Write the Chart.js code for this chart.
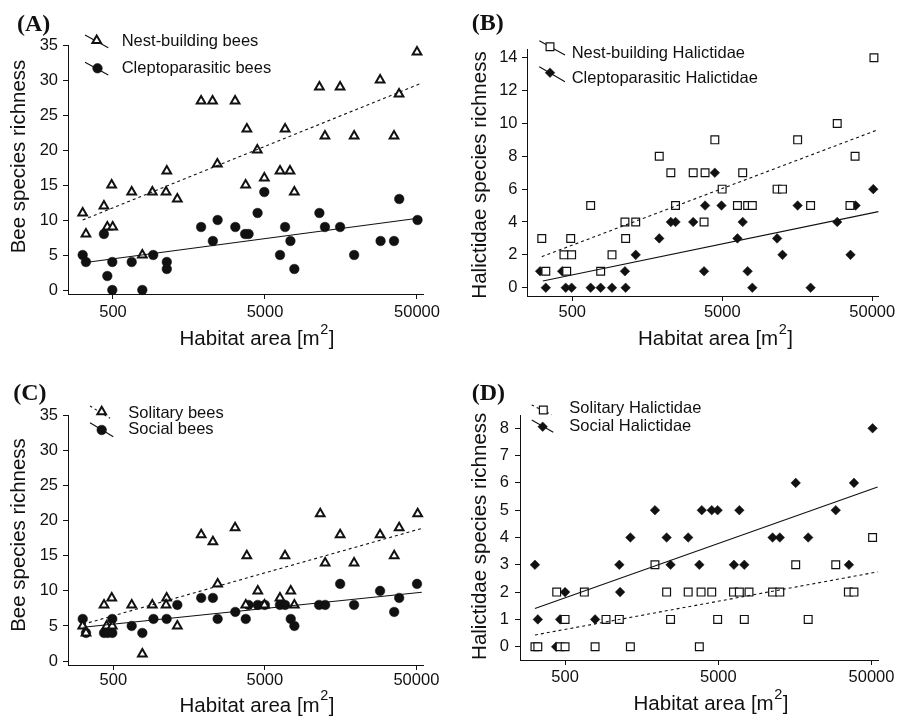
<!DOCTYPE html>
<html>
<head>
<meta charset="utf-8">
<script src="https://cdn.jsdelivr.net/npm/chart.js@4.4.1/dist/chart.umd.min.js"></script>
<style>
  html, body { margin: 0; padding: 0; background: #ffffff; }
  #wrap { position: relative; width: 901px; height: 718px; overflow: hidden; }
  canvas { position: absolute; display: block; }
</style>
</head>
<body>
<div id="wrap">
  <canvas id="cA" width="450" height="359" style="left:0;top:0"></canvas>
  <canvas id="cB" width="451" height="359" style="left:450px;top:0"></canvas>
  <canvas id="cC" width="450" height="359" style="left:0;top:359px"></canvas>
  <canvas id="cD" width="451" height="359" style="left:450px;top:359px"></canvas>
</div>
<script>
// ---------------- DATA ----------------
// x tick values / labels shared by all panels (habitat area, m2, log scale)
const xTicks = [500, 5000, 50000];
const xTickLabels = ['500', '5000', '50000'];
// y tick values
const yTicksBees = [0, 5, 10, 15, 20, 25, 30, 35];
const yTicksHalB = [0, 2, 4, 6, 8, 10, 12, 14];
const yTicksHalD = [0, 1, 2, 3, 4, 5, 6, 7, 8];

// (A) Nest-building bees
const areaNestA = [50000,28600,38100,11400,15600,1900,2260,3180,3800,6780,12400,19300,35300,4450,2430,1130,6280,7300,4950,3730,490,664,908,1117,7800,1325,436,316,459,498,332,780];
const richNestA = [34,30,28,29,29,27,27,27,23,23,22,22,22,20,18,17,17,17,16,15,15,14,14,14,14,13,12,11,9,9,8,5];
// (A) Cleptoparasitic bees
const areaCleptoA = [316,332,436,459,495,495,664,780,920,1130,1130,1900,2270,2440,3190,3700,3900,4470,4950,6280,6780,7350,7800,11400,12400,15600,19300,28800,35300,38200,50400];
const richCleptoA = [5,4,8,2,4,0,4,0,5,4,3,9,7,10,9,8,8,11,14,5,9,7,3,11,9,9,5,7,7,13,10];

// (B) Nest-building Halictidae
const areaNestB = [51300,29200,15900,4460,38400,1900,2270,3200,3840,6840,4990,11600,12600,663,2440,6310,7380,7930,19400,35500,1122,1324,3780,313,488,1134,440,495,920,333,459,773];
const richNestB = [14,10,9,9,8,8,7,7,7,7,6,6,6,5,5,5,5,5,5,5,4,4,4,3,3,3,2,2,2,1,1,1];
// (B) Cleptoparasitic Halictidae
const areaCleptoB = [50800,4460,3840,4940,15900,38700,2270,2440,3200,6840,29200,1900,6310,11600,1324,12600,35800,305,428,1122,3780,7380,333,452,495,663,773,920,1134,7930,19400];
const richCleptoB = [6,7,5,5,5,5,4,4,4,4,4,3,3,3,2,2,2,1,1,1,1,1,0,0,0,0,0,0,0,0,0];

// (C) Solitary bees
const areaSolC = [11600,51000,3180,38500,1900,15700,28800,2270,3800,6790,35700,12500,19400,2440,488,1124,4490,7410,6290,434,661,904,1114,3740,4970,7830,314,452,492,1322,330,777];
const richSolC = [21,21,19,19,18,18,18,17,15,15,15,14,14,11,9,9,10,10,9,8,8,8,8,8,8,8,5,5,5,5,4,1];
// (C) Social bees
const areaSocC = [314,330,434,459,492,492,661,777,920,1124,1322,1900,2270,2440,3190,3740,3900,4490,5000,6290,6800,7410,7830,11400,12500,15700,19400,28800,35700,38500,50500];
const richSocC = [6,4,4,4,4,6,5,4,6,6,8,9,9,6,7,6,8,8,8,8,8,6,5,8,8,11,8,10,7,9,11];

// (D) Solitary Halictidae
const areaSolD = [50800,1930,16000,29200,441,668,2300,3180,3860,4530,6280,6860,7930,11300,12600,35300,38400,500,925,1130,2440,4950,7390,19300,318,332,464,500,785,1334,3760];
const richSolD = [4,3,3,3,2,2,2,2,2,2,2,2,2,2,2,2,2,1,1,1,1,1,1,1,0,0,0,0,0,0,0];
// (D) Social Halictidae
const areaSocD = [50800,16000,38400,1930,3900,4530,4950,6860,29200,1334,2300,3180,11300,12600,19300,318,1130,2440,3760,6320,7390,35600,500,1143,332,464,785,437];
const richSocD = [8,6,6,5,5,5,5,5,5,4,4,4,4,4,4,3,3,3,3,3,3,3,2,2,1,1,1,0];

// fitted regression lines (end points)
const fitNestA_x = [316, 52800],   fitNestA_y = [10.0, 29.5];
const fitCleptoA_x = [320, 53700], fitCleptoA_y = [3.9, 10.33];
const fitNestB_x = [313, 54000],   fitNestB_y = [1.89, 9.6];
const fitCleptoB_x = [318, 54900], fitCleptoB_y = [0.41, 4.63];
const fitSolC_x = [316, 54000],    fitSolC_y = [5.24, 18.9];
const fitSocC_x = [316, 54300],    fitSocC_y = [4.81, 9.81];
const fitSolD_x = [318, 54800],    fitSolD_y = [0.43, 2.74];
const fitSocD_x = [318, 54800],    fitSocD_y = [1.40, 5.85];

// ---------------- STYLE ----------------
const INK = '#111111';
const FONT = '"Liberation Sans", Arial, Helvetica, sans-serif';
const SERIF = '"Liberation Serif", "Times New Roman", serif';
const X_TITLE = ['Habitat area [m', '2', ']'];

const STY = {
  tri:  { pointStyle: 'triangle', radius: 5.0, bg: '#ffffff', bw: 2.0 },
  circ: { pointStyle: 'circle',   radius: 4.8, bg: INK,       bw: 0.5 },
  sq:   { pointStyle: 'rect',     radius: 5.5, bg: '#ffffff', bw: 1.2 },
  dia:  { pointStyle: 'rectRot',  radius: 4.8, bg: INK,       bw: 0.5 }
};

function drawShape(ctx, sty, x, y) {
  const r = sty.radius;
  ctx.save();
  ctx.beginPath();
  if (sty.pointStyle === 'triangle') {
    ctx.moveTo(x, y - r);
    ctx.lineTo(x + 0.866 * r, y + 0.5 * r);
    ctx.lineTo(x - 0.866 * r, y + 0.5 * r);
    ctx.closePath();
  } else if (sty.pointStyle === 'circle') {
    ctx.arc(x, y, r, 0, Math.PI * 2);
  } else if (sty.pointStyle === 'rect') {
    const s = Math.SQRT1_2 * r;
    ctx.rect(x - s, y - s, 2 * s, 2 * s);
  } else {
    ctx.moveTo(x - r, y); ctx.lineTo(x, y - r); ctx.lineTo(x + r, y); ctx.lineTo(x, y + r);
    ctx.closePath();
  }
  ctx.fillStyle = sty.bg;
  ctx.fill();
  ctx.lineWidth = sty.bw;
  ctx.strokeStyle = INK;
  ctx.stroke();
  ctx.restore();
}

function makeTextPlugin(p) {
  return {
    id: 'panelText' + p.id,
    afterDraw(chart) {
      const ctx = chart.ctx;
      ctx.save();
      ctx.fillStyle = INK;
      ctx.strokeStyle = INK;
      // panel letter
      ctx.font = 'bold 24px ' + SERIF;
      ctx.textAlign = 'left';
      ctx.textBaseline = 'alphabetic';
      ctx.fillText(p.label, p.labelPos[0], p.labelPos[1]);
      // y axis title
      ctx.save();
      ctx.translate(p.yTitlePos[0], p.yTitlePos[1]);
      ctx.rotate(-Math.PI / 2);
      ctx.font = '20.5px ' + FONT;
      ctx.textAlign = 'center';
      ctx.textBaseline = 'alphabetic';
      ctx.fillText(p.yTitle, 0, 0);
      ctx.restore();
      // x axis title with superscript 2
      const mainF = '20.5px ' + FONT, supF = '14.5px ' + FONT;
      ctx.font = mainF;
      const w1 = ctx.measureText(X_TITLE[0]).width;
      const w3 = ctx.measureText(X_TITLE[2]).width;
      ctx.font = supF;
      const w2 = ctx.measureText(X_TITLE[1]).width;
      const x0 = p.xTitlePos[0] - (w1 + w2 + w3) / 2, by = p.xTitlePos[1];
      ctx.textAlign = 'left';
      ctx.font = mainF; ctx.fillText(X_TITLE[0], x0, by);
      ctx.font = supF;  ctx.fillText(X_TITLE[1], x0 + w1 + 0.5, by - 11.5);
      ctx.font = mainF; ctx.fillText(X_TITLE[2], x0 + w1 + w2 + 1, by);
      // legend
      ctx.font = '16.5px ' + FONT;
      ctx.textBaseline = 'middle';
      p.legend.forEach(it => {
        ctx.save();
        ctx.lineWidth = 1.1;
        ctx.strokeStyle = INK;
        ctx.setLineDash(it.dash ? [2.5, 3] : []);
        ctx.beginPath();
        ctx.moveTo(it.line[0], it.line[1]);
        ctx.lineTo(it.line[2], it.line[3]);
        ctx.stroke();
        ctx.restore();
        drawShape(ctx, it.sty, it.sym[0], it.sym[1]);
        ctx.fillStyle = INK;
        ctx.fillText(it.text, it.tx, it.ty);
      });
      ctx.restore();
    }
  };
}

function pairs(xs, ys) { return xs.map((x, i) => ({ x: x, y: ys[i] })); }

function makeChart(p) {
  const datasets = [];
  p.series.forEach(s => {
    datasets.push({
      type: 'line', label: s.name + ' fit', data: pairs(s.fitX, s.fitY),
      borderColor: INK, borderWidth: 1.1, borderDash: s.dash ? [3, 3] : [],
      pointRadius: 0, fill: false, tension: 0, order: 0, clip: false
    });
    datasets.push({
      type: 'scatter', label: s.name, data: pairs(s.x, s.y),
      pointStyle: s.sty.pointStyle, pointRadius: s.sty.radius,
      pointBackgroundColor: s.sty.bg, pointBorderColor: INK, pointBorderWidth: s.sty.bw,
      order: 1, clip: false
    });
  });
  const tickFont = { family: FONT, size: 16.5 };
  const gridOpt = { display: true, drawOnChartArea: false, drawTicks: true, tickLength: 5, color: INK, lineWidth: 1 };
  const borderOpt = { display: true, color: INK, width: 1 };
  new Chart(document.getElementById(p.id), {
    type: 'scatter',
    data: { datasets: datasets },
    options: {
      responsive: false, animation: false, devicePixelRatio: 1, events: [],
      layout: { padding: { left: 0, bottom: 0, top: p.area.t, right: p.w - p.area.r } },
      plugins: { legend: { display: false }, tooltip: { enabled: false }, title: { display: false } },
      scales: {
        x: {
          type: 'logarithmic', position: 'bottom', min: p.xmin, max: p.xmax,
          afterBuildTicks: sc => { sc.ticks = xTicks.map(v => ({ value: v })); },
          afterFit: sc => { sc.height = p.h - p.area.b; },
          ticks: { callback: (v, i) => xTickLabels[i], color: INK, font: tickFont, padding: p.xPad, autoSkip: false, maxRotation: 0, minRotation: 0 },
          grid: gridOpt, border: borderOpt
        },
        y: {
          type: 'linear', position: 'left', min: p.ymin, max: p.ymax,
          afterBuildTicks: sc => { sc.ticks = p.yTicks.map(v => ({ value: v })); },
          afterFit: sc => { sc.width = p.area.l; },
          ticks: { callback: v => String(v), color: INK, font: tickFont, padding: p.yPad, autoSkip: false },
          grid: gridOpt, border: borderOpt
        }
      }
    },
    plugins: [makeTextPlugin(p)]
  });
}

const panels = [
  {
    id: 'cA', w: 450, h: 359, area: { l: 68, t: 45, r: 423, b: 294 },
    xmin: 253, xmax: 54760, ymin: -0.57, ymax: 35, yTicks: yTicksBees, xPad: 3.6, yPad: 5,
    label: '(A)', labelPos: [17, 31], yTitle: 'Bee species richness', yTitlePos: [25, 156.5], xTitlePos: [256.5, 345],
    series: [
      { name: 'Nest-building bees', x: areaNestA, y: richNestA, fitX: fitNestA_x, fitY: fitNestA_y, sty: STY.tri, dash: true },
      { name: 'Cleptoparasitic bees', x: areaCleptoA, y: richCleptoA, fitX: fitCleptoA_x, fitY: fitCleptoA_y, sty: STY.circ, dash: false }
    ],
    legend: [
      { sty: STY.tri, dash: false, line: [85, 35, 108.3, 47.7], sym: [96.7, 40.5], text: 'Nest-building bees', tx: 121.7, ty: 41.5 },
      { sty: STY.circ, dash: false, line: [85, 62.3, 108.3, 75], sym: [97.5, 68.3], text: 'Cleptoparasitic bees', tx: 121.7, ty: 68.7 }
    ]
  },
  {
    id: 'cB', w: 451, h: 359, area: { l: 77, t: 49, r: 428, b: 296 },
    xmin: 249.5, xmax: 54600, ymin: -0.505, ymax: 14.53, yTicks: yTicksHalB, xPad: 1.6, yPad: 4.5,
    label: '(B)', labelPos: [21.7, 30], yTitle: 'Halictidae species richness', yTitlePos: [36, 175], xTitlePos: [265, 345],
    series: [
      { name: 'Nest-building Halictidae', x: areaNestB, y: richNestB, fitX: fitNestB_x, fitY: fitNestB_y, sty: STY.sq, dash: true },
      { name: 'Cleptoparasitic Halictidae', x: areaCleptoB, y: richCleptoB, fitX: fitCleptoB_x, fitY: fitCleptoB_y, sty: STY.dia, dash: false }
    ],
    legend: [
      { sty: STY.sq, dash: false, line: [89.3, 40.7, 115, 55], sym: [100, 46.7], text: 'Nest-building Halictidae', tx: 121.7, ty: 53 },
      { sty: STY.dia, dash: false, line: [89.3, 66.7, 115, 81.7], sym: [100, 72.7], text: 'Cleptoparasitic Halictidae', tx: 121.7, ty: 78.8 }
    ]
  },
  {
    id: 'cC', w: 450, h: 359, area: { l: 68, t: 56, r: 423, b: 306 },
    xmin: 251, xmax: 55300, ymin: -0.57, ymax: 35.1, yTicks: yTicksBees, xPad: 0.9, yPad: 5,
    label: '(C)', labelPos: [13.3, 41], yTitle: 'Bee species richness', yTitlePos: [25, 176], xTitlePos: [256.5, 352.5],
    series: [
      { name: 'Solitary bees', x: areaSolC, y: richSolC, fitX: fitSolC_x, fitY: fitSolC_y, sty: STY.tri, dash: true },
      { name: 'Social bees', x: areaSocC, y: richSocC, fitX: fitSocC_x, fitY: fitSocC_y, sty: STY.circ, dash: false }
    ],
    legend: [
      { sty: STY.tri, dash: true, line: [90, 47, 110, 59.3], sym: [101.7, 52.7], text: 'Solitary bees', tx: 128.3, ty: 54 },
      { sty: STY.circ, dash: false, line: [90, 63.7, 113.3, 77.7], sym: [101.7, 71], text: 'Social bees', tx: 128.3, ty: 70.2 }
    ]
  },
  {
    id: 'cD', w: 451, h: 359, area: { l: 70, t: 56, r: 428, b: 301 },
    xmin: 254, xmax: 55100, ymin: -0.487, ymax: 8.487, yTicks: yTicksHalD, xPad: 2.6, yPad: 6,
    label: '(D)', labelPos: [21.7, 41], yTitle: 'Halictidae species richness', yTitlePos: [36, 177.3], xTitlePos: [260.5, 351],
    series: [
      { name: 'Solitary Halictidae', x: areaSolD, y: richSolD, fitX: fitSolD_x, fitY: fitSolD_y, sty: STY.sq, dash: true },
      { name: 'Social Halictidae', x: areaSocD, y: richSocD, fitX: fitSocD_x, fitY: fitSocD_y, sty: STY.dia, dash: false }
    ],
    legend: [
      { sty: STY.sq, dash: true, line: [81.7, 46, 101.7, 55.7], sym: [93.3, 51], text: 'Solitary Halictidae', tx: 119.3, ty: 49.7 },
      { sty: STY.dia, dash: false, line: [81.7, 61, 103.3, 73.3], sym: [92.7, 67.7], text: 'Social Halictidae', tx: 119.3, ty: 67.3 }
    ]
  }
];

panels.forEach(makeChart);
</script>
</body>
</html>
